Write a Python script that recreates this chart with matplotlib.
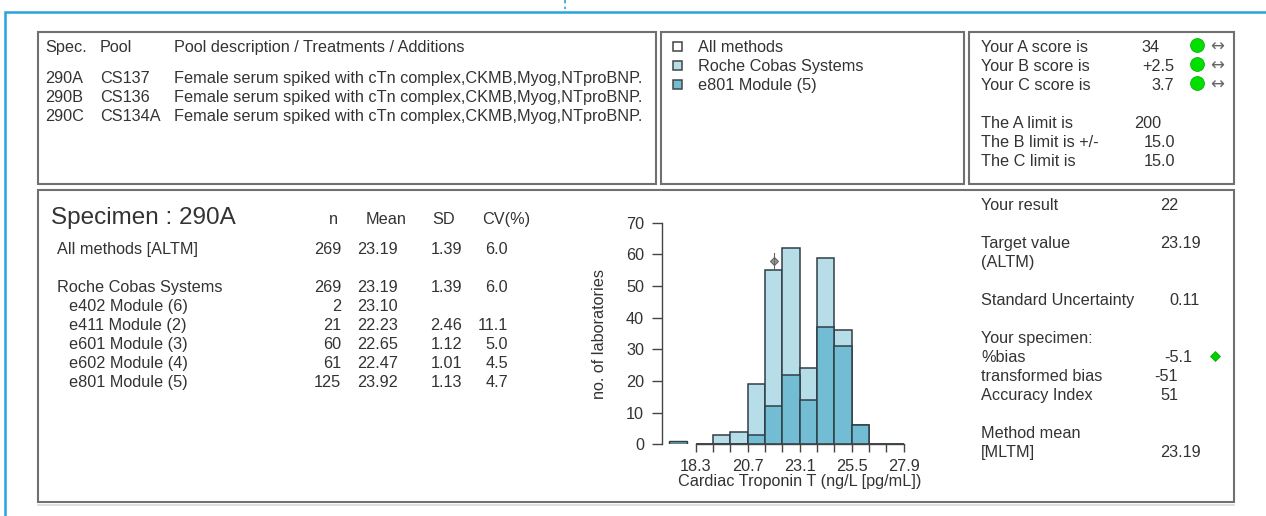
import matplotlib
matplotlib.use('Agg')
import matplotlib.pyplot as plt
import numpy as np
from matplotlib.patches import Rectangle

plt.rcParams['font.family'] = ['Liberation Sans', 'DejaVu Sans']

# histogram data
bin_edges = [18.3, 19.1, 19.9, 20.7, 21.5, 22.3, 23.1, 23.9, 24.7, 25.5, 26.3, 27.1, 27.9]
all_counts = [0, 3, 4, 19, 55, 62, 24, 59, 36, 6, 0, 0]
e801_counts = [0, 0, 0, 3, 12, 22, 14, 37, 31, 6, 0, 0]
below_range = [17.08, 17.92, 1]
your_result = 21.9
x_labels = ['18.3', '20.7', '23.1', '25.5', '27.9']
y_ticks = [0, 10, 20, 30, 40, 50, 60, 70]

# text tables
pool_header = ['Spec.', 'Pool', 'Pool description / Treatments / Additions']
pool_rows = [['290A', 'CS137', 'Female serum spiked with cTn complex,CKMB,Myog,NTproBNP.'],
             ['290B', 'CS136', 'Female serum spiked with cTn complex,CKMB,Myog,NTproBNP.'],
             ['290C', 'CS134A', 'Female serum spiked with cTn complex,CKMB,Myog,NTproBNP.']]
legend_names = ['All methods', 'Roche Cobas Systems', 'e801 Module (5)']
score_names = ['Your A score is', 'Your B score is', 'Your C score is']
score_values = ['34', '+2.5', '3.7']
limit_names = ['The A limit is', 'The B limit is +/-', 'The C limit is']
limit_values = ['200', '15.0', '15.0']
stat_names = ['All methods [ALTM]', 'Roche Cobas Systems', 'e402 Module (6)', 'e411 Module (2)',
              'e601 Module (3)', 'e602 Module (4)', 'e801 Module (5)']
stat_n = ['269', '269', '2', '21', '60', '61', '125']
stat_mean = ['23.19', '23.19', '23.10', '22.23', '22.65', '22.47', '23.92']
stat_sd = ['1.39', '1.39', '', '2.46', '1.12', '1.01', '1.13']
stat_cv = ['6.0', '6.0', '', '11.1', '5.0', '4.5', '4.7']

LIGHT = '#b7dde8'
DARK = '#72bdd3'
EDGE = '#2f3f46'
TEXT = '#333333'
FS = 11.7
W, H = 1266, 516

fig = plt.figure(figsize=(W / 100, H / 100), dpi=100)

# overlay in pixel coordinates for the report panels
bg = fig.add_axes([0, 0, 1, 1])
bg.set_xlim(0, W)
bg.set_ylim(H, 0)
bg.axis('off')


def put(x, y, s, ha='left', size=FS):
    # baseline alignment keeps a row level whatever glyphs it has
    bg.text(x, y + size * 0.5, s, ha=ha, va='baseline', fontsize=size, color=TEXT)


# blue page frame
bg.plot([5, 5, W], [H, 12, 12], color='#29a3dc', lw=1.8, solid_joinstyle='miter')
bg.plot([565, 565], [0, 9], color='#29a3dc', lw=1.2, ls=(0, (2, 2)))

for x0, y0, x1, y1 in [(38, 32, 656, 184), (661, 32, 964, 184), (969, 32, 1234, 184), (38, 190, 1234, 502)]:
    bg.add_patch(Rectangle((x0, y0), x1 - x0, y1 - y0, fc='white', ec='#707070', lw=1.5))
bg.plot([38, 1234], [505, 505], color='#d8d8d8', lw=1.2)

# pool table
for x, s in zip([45, 100, 174], pool_header):
    put(x, 46, s)
for y, row in zip([77, 96, 115], pool_rows):
    for x, s in zip([45, 100, 174], row):
        put(x, y, s)

# legend
for y, s, c in zip([46, 65, 84], legend_names, ['white', LIGHT, DARK]):
    bg.add_patch(Rectangle((673, y - 4.5), 9, 9, fc=c, ec='#444444', lw=1.1))
    put(698, y, s)

# scores
for y, name, val in zip([46, 65, 84], score_names, score_values):
    put(981, y, name)
    put(1174 if val != '34' else 1160, y, val, ha='right')
    bg.plot(1197, y - 1, 'o', ms=10, color='#00e000', mec='#00a800', mew=0.5)
    bg.text(1217, y + 1, '\u2194', ha='center', va='center', fontsize=12, color='#666666', family='DejaVu Sans')
for y, name, val in zip([122, 141, 160], limit_names, limit_values):
    put(981, y, name)
    put(1161 if val == '200' else 1175, y, val, ha='right')

# specimen stats
put(51, 215, 'Specimen : 290A', size=17.5)
for x, s in zip([333, 386, 444, 506], ['n', 'Mean', 'SD', 'CV(%)']):
    put(x, 218, s, ha='center')
for y, x, name, n, m, sd, cv in zip([248, 286, 305, 324, 343, 362, 381], [57, 57, 69, 69, 69, 69, 69],
                                    stat_names, stat_n, stat_mean, stat_sd, stat_cv):
    put(x, y, name)
    put(341, y, n, ha='right')
    put(398, y, m, ha='right')
    put(462, y, sd, ha='right')
    put(508, y, cv, ha='right')

# right column
for y, s in [(204, 'Your result'), (242, 'Target value'), (261, '(ALTM)'), (299, 'Standard Uncertainty'),
             (337, 'Your specimen:'), (356, '%bias'), (375, 'transformed bias'), (394, 'Accuracy Index'),
             (432, 'Method mean'), (451, '[MLTM]')]:
    put(981, y, s)
for x, y, s in [(1178, 204, '22'), (1201, 242, '23.19'), (1200, 299, '0.11'), (1192, 356, '-5.1'),
                (1178, 375, '-51'), (1178, 394, '51'), (1201, 451, '23.19')]:
    put(x, y, s, ha='right')
bg.plot(1215, 356, 'D', ms=5, color='#00d000', mec='#00a000', mew=0.5)

# histogram
ax = fig.add_axes([661.5 / W, 1 - 444.3 / H, 242.2 / W, 221.6 / H])
ax.patch.set_alpha(0)
edges = np.array(bin_edges)
lefts = edges[:-1]
widths = np.diff(edges)
ax.bar(lefts, all_counts, widths, align='edge', color=LIGHT, edgecolor=EDGE, linewidth=1.1)
ax.bar(lefts, e801_counts, widths, align='edge', color=DARK, edgecolor=EDGE, linewidth=1.1)
ax.bar(below_range[0], below_range[2], below_range[1] - below_range[0], align='edge',
       color='#6f9aa8', edgecolor=EDGE, linewidth=1)
ax.plot([your_result], [58], marker='D', ms=4, mfc='#999999', mec='#666666', mew=0.8, ls='none')
ax.plot([your_result, your_result], [55.8, 60.5], color='#666666', lw=0.8)

ax.set_xlim(18.3 - 34.2 / 17.33 * 0.8, 27.9)
ax.set_ylim(0, 70)
for side in ['top', 'right']:
    ax.spines[side].set_visible(False)
ax.spines['left'].set_bounds(0, 70)
ax.spines['bottom'].set_bounds(18.3, 27.9)
for side in ['left', 'bottom']:
    ax.spines[side].set_color('#444444')
    ax.spines[side].set_linewidth(1.0)
ax.set_yticks(y_ticks)
ax.set_xticks(bin_edges)
ax.set_xticklabels([x_labels[i // 3] if i % 3 == 0 else '' for i in range(len(bin_edges))])
ax.tick_params(axis='both', labelsize=FS, labelcolor=TEXT, color='#444444', width=1.0)
ax.tick_params(axis='y', length=7.5, pad=5)
ax.tick_params(axis='x', length=6, pad=4.5)
ax.set_xlabel('Cardiac Troponin T (ng/L [pg/mL])', fontsize=FS, color=TEXT)
ax.xaxis.set_label_coords(0.572, -0.134)
ax.set_ylabel('no. of laboratories', fontsize=FS, color=TEXT)
ax.yaxis.set_label_coords(-0.225, 0.498)

fig.savefig('out.png', dpi=100)
